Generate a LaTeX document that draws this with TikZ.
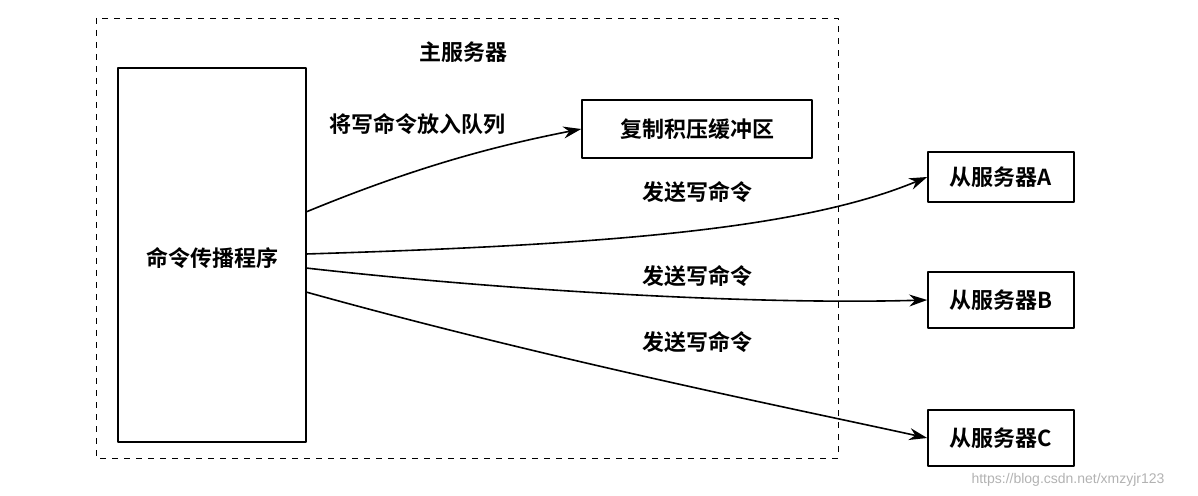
\documentclass[tikz,border=0pt]{standalone}
\usepackage{fontspec}
\setmainfont{Noto Sans CJK SC Bold}
\newfontfamily\markfont{Liberation Sans}
\usetikzlibrary{arrows.meta}
\tikzset{
  box/.style={draw, thick, inner sep=0pt},
  cmd/.style={thick, -{Stealth[length=9pt,width=6pt]}},
  lbl/.style={font=\fontsize{11}{13}\selectfont}
}
\begin{document}
\begin{tikzpicture}[x=0.5pt, y=-0.5pt, line join=round]
  \useasboundingbox (0,0) rectangle (1198,496);

  % master server frame
  \draw[dashed, thin] (96,18) rectangle (838,458);
  \node[lbl] (master) at (463,52) {主服务器};

  % boxes
  \draw[box] (118,68) rectangle (306,442);
  \node[lbl] (prop) at (212,258) {命令传播程序};
  \coordinate (p1) at (306,212);
  \coordinate (p2) at (306,254);
  \coordinate (p3) at (306,268);
  \coordinate (p4) at (306,292);

  \node[box, lbl, minimum width=115pt, minimum height=29pt] (buf) at (697,129) {复制积压缓冲区};
  \node[box, lbl, minimum width=73pt, minimum height=25pt] (slaveA) at (1001,177) {从服务器A};
  \node[box, lbl, minimum width=73pt, minimum height=28pt] (slaveB) at (1001,300) {从服务器B};
  \node[box, lbl, minimum width=73pt, minimum height=28pt] (slaveC) at (1001,438) {从服务器C};

  % connectors
  \draw[cmd] (p1) .. controls (420,165) and (500,145) .. (buf.west);
  \node[lbl] (qlbl) at (417,124) {将写命令放入队列};

  \draw[cmd] (p2) .. controls (600,245) and (800,230) .. (slaveA.west);
  \node[lbl] (albl) at (697,192) {发送写命令};

  \draw[cmd] (p3) .. controls (500,290) and (750,305) .. (slaveB.west);
  \node[lbl] (blbl) at (697,276) {发送写命令};

  \draw[cmd] (p4) .. controls (550,360) and (800,410) .. (slaveC.west);
  \node[lbl] (clbl) at (697,342) {发送写命令};

  \node[font=\markfont\fontsize{7}{8}\selectfont, text=gray!60] (mark) at (1068,480) {https://blog.csdn.net/xmzyjr123};
\end{tikzpicture}
\end{document}
